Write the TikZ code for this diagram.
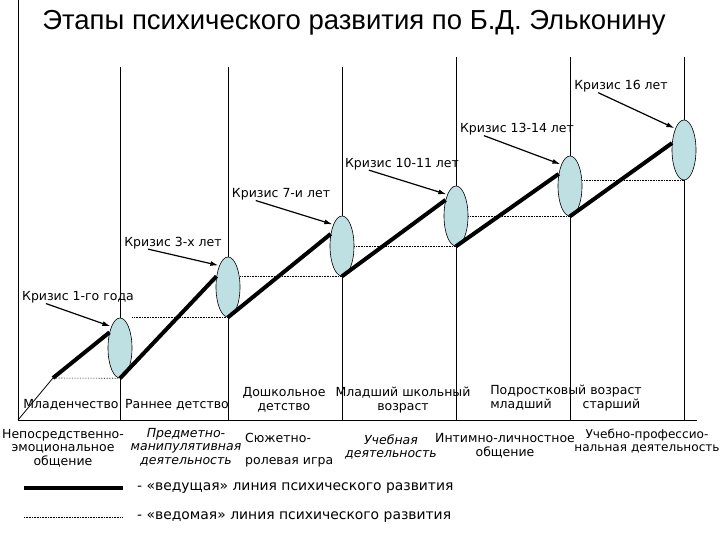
\documentclass[tikz,border=0pt]{standalone}
\usepackage{fontspec}
\setmainfont{DejaVu Sans}
\newfontfamily\titlefont{Liberation Sans}
\usetikzlibrary{shapes.geometric,arrows.meta}
\definecolor{crisisfill}{RGB}{190,224,226}

\begin{document}
\begin{tikzpicture}
	[x=1pt, y=-1pt,
	 crisis/.style={ellipse, draw, fill=crisisfill, minimum width=24pt, minimum height=60pt, inner sep=0pt, line width=0.6pt},
	 lead/.style={line width=4pt},
	 led/.style={densely dotted, line width=0.6pt},
	 grid/.style={line width=0.8pt},
	 note/.style={font=\fontsize{12.5}{13.5}\selectfont, inner sep=0pt},
	 tip/.style={-{Latex[length=8pt,width=5pt]}, line width=1.2pt, shorten >=1pt}]
	\useasboundingbox (0,0) rectangle (720,540);

	\node[font=\titlefont\fontsize{27.5}{30}\selectfont] (title) at (354,23) {Этапы психического развития по Б.Д. Эльконину};

	% axes and stage borders
	\coordinate (O) at (18,420);
	\coordinate (top) at (18,0);
	\coordinate (end) at (697,420);
	\draw[grid] (top) -- (O) -- (end);
	\foreach \x/\t in {120/67, 228/67, 342/67, 456/57, 570/57, 684/57}
		\draw[grid] (\x,\t) -- (\x,420);

	% crises
	\foreach \i/\x/\y in {1/120/348, 2/228/287, 3/342/246, 4/456/216, 5/570/186, 6/684/150}
		\node[crisis] (E\i) at (\x,\y) {};

	\coordinate (S) at (53,378);
	\draw[grid] (O) -- (S);
	\draw[led] (S) -- (E1.south);
	\draw[lead] (S) -- (E1.124);
	\foreach \i/\j/\a in {1/2/137, 2/3/133, 3/4/123, 4/5/133, 5/6/150} {
		\draw[led] (E\i.east |- E\j.south) -- (E\j.south);
		\draw[lead] (E\i.south) -- (E\j.\a);
	}

	\foreach \i/\x/\y/\t in {1/78/297.5/Кризис 1-го года, 2/173/243/Кризис 3-х лет, 3/281/194.5/Кризис 7-и лет,
			4/402/164/Кризис 10-11 лет, 5/517/129.5/Кризис 13-14 лет, 6/621/86.5/Кризис 16 лет} {
		\node[note] (K\i) at (\x,\y) {\t};
		\draw[tip] ([xshift=24pt]K\i.south west) -- (E\i.north west);
	}

	% ages
	\node[note] (A1) at (71,405) {Младенчество};
	\node[note] (A2) at (177,405) {Раннее детство};
	\node[note, align=center] (A3) at (284,400) {Дошкольное\\детство};
	\node[note, align=center] (A4) at (403,400) {Младший школьный\\возраст};
	\node[note, align=left] (A5) at (566,398) {Подростковый возраст\\младший\hspace{31pt}старший};

	% leading activities
	\node[note, align=center] (D1) at (63,448) {Непосредственно-\\эмоциональное\\общение};
	\node[note, align=center, font=\fontsize{12.5}{13.5}\selectfont\itshape] (D2) at (186,447) {Предметно-\\манипулятивная\\деятельность};
	\node[note, align=left, anchor=west] (D3) at (245,450) {Сюжетно-\\[8pt]ролевая игра};
	\node[note, align=center, font=\fontsize{12.5}{13.5}\selectfont\itshape] (D4) at (391,447) {Учебная\\деятельность};
	\node[note, align=center] (D5) at (505,446) {Интимно-личностное\\общение};
	\node[note, align=center, font=\fontsize{12.1}{13.5}\selectfont] (D6) at (647,441) {Учебно-профессио-\\нальная деятельность};

	% legend
	\coordinate (L1a) at (24,488);
	\coordinate (L1b) at (123,488);
	\coordinate (L2a) at (24,517);
	\coordinate (L2b) at (123,517);
	\draw[lead] (L1a) -- (L1b);
	\draw[led] (L2a) -- (L2b);
	\node[note, anchor=west, font=\fontsize{13.9}{15}\selectfont] (T1) at (137,488) {- «ведущая» линия психического развития};
	\node[note, anchor=west, font=\fontsize{13.9}{15}\selectfont] (T2) at (137,517) {- «ведомая» линия психического развития};
\end{tikzpicture}
\end{document}
